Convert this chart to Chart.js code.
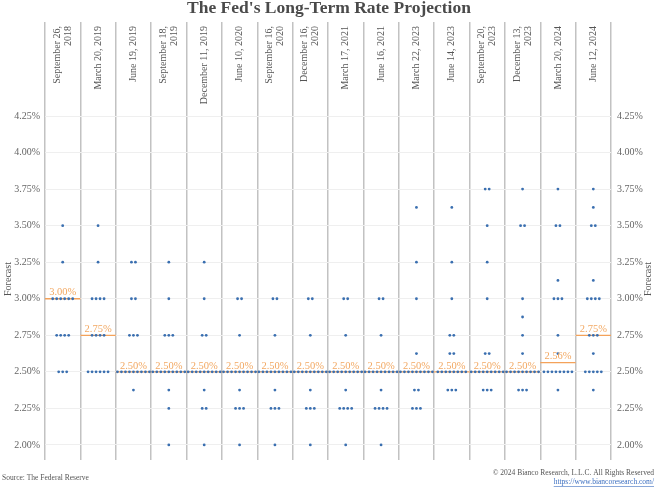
<!DOCTYPE html>
<html>
<head>
<meta charset="utf-8">
<script src="https://cdn.jsdelivr.net/npm/chart.js@4.4.1/dist/chart.umd.min.js"></script>
<style>
    body { margin: 0; background: #ffffff; }
    canvas { display: block; }
</style>
</head>
<body>
<canvas id="chart" width="656" height="494"></canvas>
<script>
// FOMC meetings (column headers)
const meetingLabels = [
    ['September 26,', '2018'], ['March 20, 2019'], ['June 19, 2019'], ['September 18,', '2019'],
    ['December 11, 2019'], ['June 10, 2020'], ['September 16,', '2020'], ['December 16,', '2020'],
    ['March 17, 2021'], ['June 16, 2021'], ['March 22, 2023'], ['June 14, 2023'],
    ['September 20,', '2023'], ['December 13,', '2023'], ['March 20, 2024'], ['June 12, 2024']
];

// Median longer-run projection per meeting
const medians = [3.00, 2.75, 2.50, 2.50, 2.50, 2.50, 2.50, 2.50, 2.50, 2.50, 2.50, 2.50, 2.50, 2.50, 2.5625, 2.75];
const medianLabels = ['3.00%', '2.75%', '2.50%', '2.50%', '2.50%', '2.50%', '2.50%', '2.50%',
    '2.50%', '2.50%', '2.50%', '2.50%', '2.50%', '2.50%', '2.56%', '2.75%'];

// Dots per meeting: [rate, number of participants]
const dotsSep2018 = [[3.5, 1], [3.25, 1], [3.0, 6], [2.75, 4], [2.5, 3]];
const dotsMar2019 = [[3.5, 1], [3.25, 1], [3.0, 4], [2.75, 4], [2.5, 6]];
const dotsJun2019 = [[3.25, 2], [3.0, 2], [2.75, 3], [2.5, 9], [2.375, 1]];
const dotsSep2019 = [[3.25, 1], [3.0, 1], [2.75, 3], [2.5, 9], [2.375, 1], [2.25, 1], [2.0, 1]];
const dotsDec2019 = [[3.25, 1], [3.0, 1], [2.75, 2], [2.5, 9], [2.375, 1], [2.25, 2], [2.0, 1]];
const dotsJun2020 = [[3.0, 2], [2.75, 1], [2.5, 9], [2.375, 1], [2.25, 3], [2.0, 1]];
const dotsSep2020 = [[3.0, 2], [2.75, 1], [2.5, 9], [2.375, 1], [2.25, 3], [2.0, 1]];
const dotsDec2020 = [[3.0, 2], [2.75, 1], [2.5, 9], [2.375, 1], [2.25, 3], [2.0, 1]];
const dotsMar2021 = [[3.0, 2], [2.75, 1], [2.5, 9], [2.375, 1], [2.25, 4], [2.0, 1]];
const dotsJun2021 = [[3.0, 2], [2.75, 1], [2.5, 9], [2.375, 1], [2.25, 4], [2.0, 1]];
const dotsMar2023 = [[3.625, 1], [3.25, 1], [3.0, 1], [2.625, 1], [2.5, 9], [2.375, 2], [2.25, 3]];
const dotsJun2023 = [[3.625, 1], [3.25, 1], [3.0, 1], [2.75, 2], [2.625, 2], [2.5, 8], [2.375, 3]];
const dotsSep2023 = [[3.75, 2], [3.5, 1], [3.25, 1], [3.0, 1], [2.625, 2], [2.5, 9], [2.375, 3]];
const dotsDec2023 = [[3.75, 1], [3.5, 2], [3.0, 1], [2.875, 1], [2.75, 1], [2.625, 1], [2.5, 9], [2.375, 3]];
const dotsMar2024 = [[3.75, 1], [3.5, 2], [3.125, 1], [3.0, 3], [2.75, 1], [2.625, 1], [2.5, 8], [2.375, 1]];
const dotsJun2024 = [[3.75, 1], [3.625, 1], [3.5, 2], [3.125, 1], [3.0, 4], [2.75, 3], [2.625, 1], [2.5, 5], [2.375, 1]];

const meetingDots = [dotsSep2018, dotsMar2019, dotsJun2019, dotsSep2019, dotsDec2019, dotsJun2020,
    dotsSep2020, dotsDec2020, dotsMar2021, dotsJun2021, dotsMar2023, dotsJun2023,
    dotsSep2023, dotsDec2023, dotsMar2024, dotsJun2024];

// Y axis tick labels
const tickValues = [2.00, 2.25, 2.50, 2.75, 3.00, 3.25, 3.50, 3.75, 4.00, 4.25];

const FONT = '"Liberation Serif", "DejaVu Serif", serif';
const DOT_COLOR = '#3a6fb0';
const MEDIAN_COLOR = '#f4a25a';
const TEXT_COLOR = '#555555';
const dotStep = 0.113; // horizontal spacing of dots in one row (column units)

// Spread the dots of one level side by side, centred in the column
const dotPoints = [];
meetingDots.forEach((levels, i) => {
    levels.forEach(([rate, n]) => {
        for (let k = 0; k < n; k++) {
            dotPoints.push({ x: i + 0.5 + (k - (n - 1) / 2) * dotStep, y: rate });
        }
    });
});

const datasets = [{
    type: 'scatter',
    data: dotPoints,
    pointRadius: 1.4,
    pointBackgroundColor: DOT_COLOR,
    pointBorderWidth: 0,
    order: 0
}];

medians.forEach((m, i) => {
    datasets.push({
        type: 'line',
        data: [{ x: i, y: m }, { x: i + 1, y: m }],
        borderColor: MEDIAN_COLOR,
        borderWidth: 1.3,
        pointRadius: 0,
        order: 1
    });
});

// Title, column headers, median labels, axis titles and footer
const textPlugin = {
    id: 'texts',
    afterDraw(chart) {
        const ctx = chart.ctx;
        const xs = chart.scales.x;
        const ys = chart.scales.y;
        ctx.save();

        // Title
        ctx.fillStyle = '#4a4a4a';
        ctx.font = 'bold 17.5px ' + FONT;
        ctx.textAlign = 'center';
        ctx.textBaseline = 'middle';
        ctx.fillText("The Fed's Long-Term Rate Projection", 329, 8);

        // Column headers, rotated
        ctx.font = '10px ' + FONT;
        ctx.fillStyle = TEXT_COLOR;
        meetingLabels.forEach((lines, i) => {
            const cx = xs.getPixelForValue(i + 0.5);
            ctx.save();
            ctx.translate(cx, 26);
            ctx.rotate(-Math.PI / 2);
            ctx.textAlign = 'right';
            ctx.textBaseline = 'middle';
            lines.forEach((line, j) => {
                ctx.fillText(line, 0, (j - (lines.length - 1) / 2) * 11);
            });
            ctx.restore();
        });

        // Median labels
        ctx.font = '10.5px ' + FONT;
        ctx.fillStyle = '#f2a862';
        ctx.textAlign = 'center';
        ctx.textBaseline = 'middle';
        medians.forEach((m, i) => {
            ctx.fillText(medianLabels[i], xs.getPixelForValue(i + 0.5), ys.getPixelForValue(m) - 6);
        });

        // Axis titles
        ctx.fillStyle = TEXT_COLOR;
        ctx.font = '10px ' + FONT;
        [8, 648].forEach(x => {
            ctx.save();
            ctx.translate(x, 279);
            ctx.rotate(-Math.PI / 2);
            ctx.textAlign = 'center';
            ctx.textBaseline = 'middle';
            ctx.fillText('Forecast', 0, 0);
            ctx.restore();
        });

        // Footer
        ctx.font = '7.5px ' + FONT;
        ctx.fillStyle = TEXT_COLOR;
        ctx.textAlign = 'left';
        ctx.fillText('Source: The Federal Reserve', 2, 478);
        ctx.textAlign = 'right';
        ctx.fillText('\u00A9 2024 Bianco Research, L.L.C. All Rights Reserved', 654, 473);
        const url = 'https://www.biancoresearch.com/';
        ctx.fillStyle = '#3c6fc0';
        ctx.fillText(url, 654, 482);
        const w = ctx.measureText(url).width;
        ctx.fillRect(654 - w, 486, w, 0.6);

        ctx.restore();
    }
};

const yTicks = {
    callback: (v) => v.toFixed(2) + '%',
    font: { family: FONT, size: 10 },
    color: '#666666'
};

new Chart(document.getElementById('chart'), {
    type: 'scatter',
    data: { datasets: datasets },
    options: {
        responsive: false,
        animation: false,
        layout: { padding: { top: 22, bottom: 34, left: 0, right: 0 } },
        plugins: {
            legend: { display: false },
            tooltip: { enabled: false }
        },
        scales: {
            x: {
                type: 'linear',
                min: 0,
                max: 16,
                ticks: { stepSize: 1, display: false },
                grid: { color: '#c2c2c2', lineWidth: 1.5, drawTicks: false },
                border: { display: false },
                afterFit(scale) { scale.height = 0; }
            },
            y: {
                position: 'left',
                min: 1.897,
                max: 4.893,
                afterBuildTicks(scale) { scale.ticks = tickValues.map(v => ({ value: v })); },
                ticks: Object.assign({ padding: 5 }, yTicks),
                grid: { color: '#efefef', drawTicks: false },
                border: { display: false },
                afterFit(scale) { scale.width = 45; }
            },
            y2: {
                position: 'right',
                min: 1.897,
                max: 4.893,
                afterBuildTicks(scale) { scale.ticks = tickValues.map(v => ({ value: v })); },
                ticks: Object.assign({ padding: 6 }, yTicks),
                grid: { display: false, drawTicks: false },
                border: { display: false },
                afterFit(scale) { scale.width = 45; }
            }
        }
    },
    plugins: [textPlugin]
});
</script>
</body>
</html>
